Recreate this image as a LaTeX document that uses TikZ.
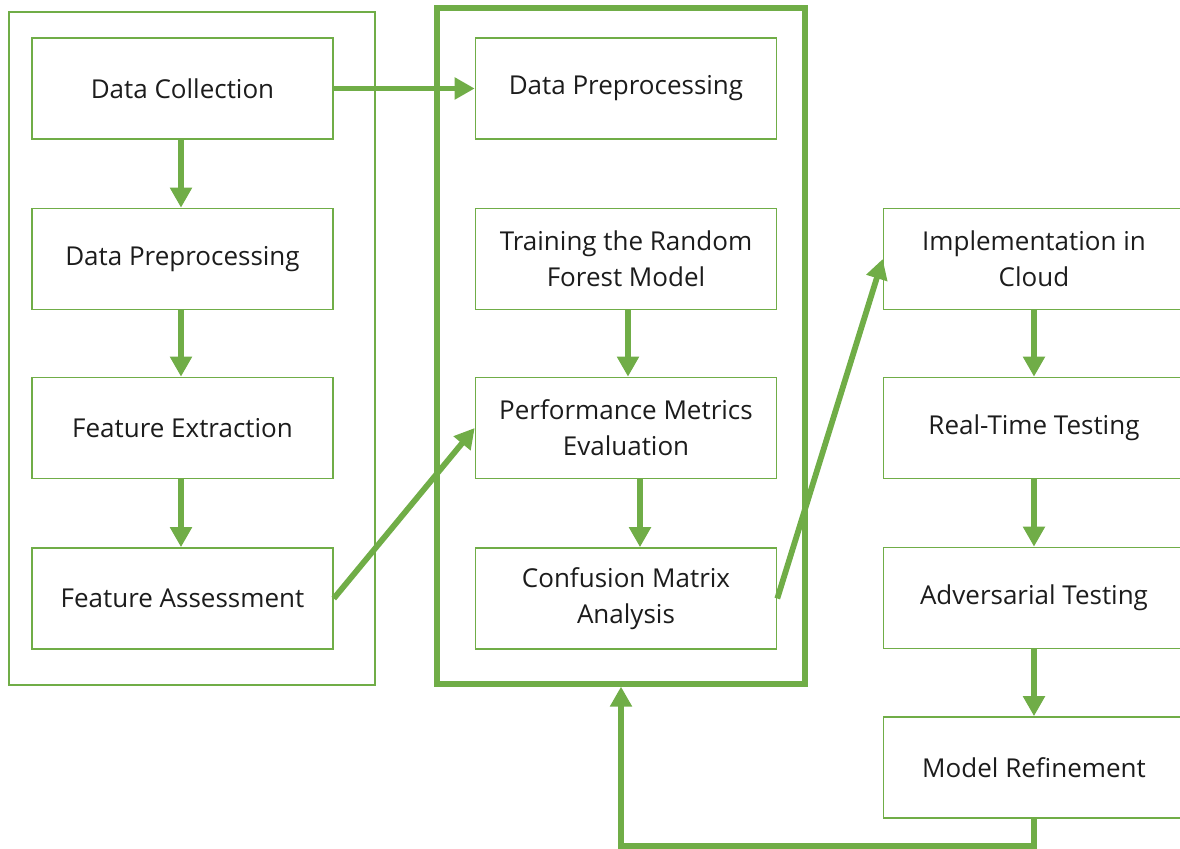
\documentclass[tikz,border=0pt]{standalone}
\usepackage{fontspec}
\setmainfont{Open Sans}
\usepackage{xcolor}
\usetikzlibrary{arrows.meta}
\definecolor{leaf}{HTML}{70AD47}
\definecolor{ink}{HTML}{1C1C1C}
\tikzset{
	stepbox/.style={draw=leaf,line width=0.8pt,minimum width=150.5pt,minimum height=50.5pt,align=center,text=ink,font=\fontsize{13}{18}\selectfont},
	flow/.style={draw=leaf,line width=2.9pt,-{Triangle[length=10pt,width=10.5pt]}},
}

\begin{document}
\begin{tikzpicture}[x=0.5pt,y=-0.5pt]
	\useasboundingbox (0,0) rectangle (1180,849);
	% group frames
	\node[draw=leaf,line width=0.8pt,minimum width=183pt,minimum height=336.5pt] at (192,348.5) (prep) {};
	\node[draw=leaf,line width=2.6pt,minimum width=184pt,minimum height=338pt] at (621,346) (stage) {};
	% left column
	\node[stepbox] at (182.5,88.5) (collect) {Data Collection};
	\node[stepbox] at (182.5,259) (clean) {Data Preprocessing};
	\node[stepbox] at (182.5,428) (extract) {Feature Extraction};
	\node[stepbox] at (182.5,598.5) (assess) {Feature Assessment};
	% middle column
	\node[stepbox] at (626,88.5) (preproc) {Data Preprocessing};
	\node[stepbox] at (626,259) (train) {Training the Random\\Forest Model};
	\node[stepbox] at (626,428) (perf) {Performance Metrics\\Evaluation};
	\node[stepbox] at (626,598.5) (confuse) {Confusion Matrix\\Analysis};
	% right column
	\node[stepbox] at (1034,259) (cloud) {Implementation in\\Cloud};
	\node[stepbox] at (1034,428) (realtime) {Real-Time Testing};
	\node[stepbox] at (1034,598) (advers) {Adversarial Testing};
	\node[stepbox] at (1034,767.5) (refine) {Model Refinement};
	\draw [flow] ([xshift=-0.75pt]collect.south) -- ([xshift=-0.75pt]clean.north);
	\draw [flow] ([xshift=-0.75pt]clean.south) -- ([xshift=-0.75pt]extract.north);
	\draw [flow] ([xshift=-0.75pt]extract.south) -- ([xshift=-0.75pt]assess.north);
	\draw [flow] (collect.east) -- (preproc.west);
	\draw [flow] (assess.east) -- (perf.west);
	\draw [flow] ([xshift=1pt]train.south) -- ([xshift=1pt]perf.north);
	\draw [flow] ([xshift=7pt]perf.south) -- ([xshift=7pt]confuse.north);
	\draw [flow] (confuse.east) -- (cloud.west);
	\draw [flow] (cloud.south) -- (realtime.north);
	\draw [flow] (realtime.south) -- (advers.north);
	\draw [flow] (advers.south) -- (refine.north);
	\draw [flow] (refine.south) -- ++(0,27) -| (stage.south);
\end{tikzpicture}
\end{document}
